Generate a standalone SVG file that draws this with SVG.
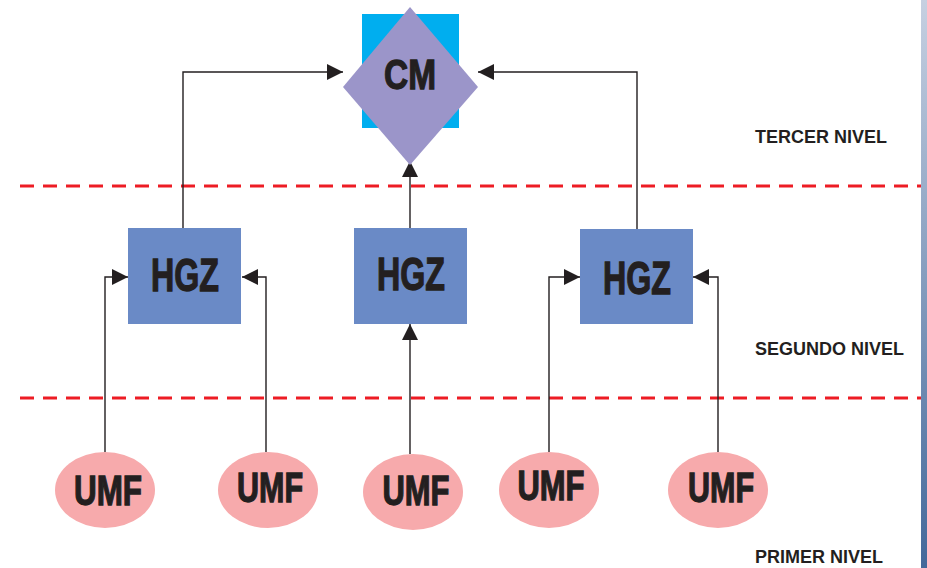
<svg xmlns="http://www.w3.org/2000/svg" width="927" height="568" viewBox="0 0 927 568">
<defs>
<linearGradient id="bar" x1="0" y1="0" x2="0" y2="1">
<stop offset="0" stop-color="#c6d0e1"/>
<stop offset="1" stop-color="#43689a"/>
</linearGradient>
<marker id="ah" markerUnits="userSpaceOnUse" markerWidth="16" markerHeight="16" refX="16" refY="8" orient="auto">
<path d="M0,0 L16,8 L0,16 z" fill="#231f20"/>
</marker>
<style>
.lbl{font-family:"Liberation Sans",Arial,sans-serif;font-weight:bold;fill:#231f20;stroke:#231f20;stroke-width:1.3;text-anchor:middle}
.lvl{font-family:"Liberation Sans",Arial,sans-serif;font-weight:bold;font-size:18px;fill:#231f20}
.hgz{fill:#6a8ac6}
.umf{fill:#f7aaac}
.conn{fill:none;stroke:#231f20;stroke-width:1.4}
.dash{stroke:#ed1c24;stroke-width:3;stroke-dasharray:14 9}
</style>
</defs>
<rect width="927" height="568" fill="#ffffff"/>
<rect x="921" y="0" width="6" height="568" fill="url(#bar)"/>
<g id="level-lines">
<line class="dash" x1="20" y1="186" x2="921" y2="186"/>
<line class="dash" x1="20" y1="398" x2="921" y2="398"/>
</g>
<g id="level-labels">
<text class="lvl" x="755" y="143">TERCER NIVEL</text>
<text class="lvl" x="755" y="355">SEGUNDO NIVEL</text>
<text class="lvl" x="755" y="563">PRIMER NIVEL</text>
</g>
<g id="connectors">
<path class="conn" d="M105,452 V277 H128" marker-end="url(#ah)"/>
<path class="conn" d="M266,452 V277 H242" marker-end="url(#ah)"/>
<path class="conn" d="M183,228 V72 H343" marker-end="url(#ah)"/>
<path class="conn" d="M637,229 V72 H478" marker-end="url(#ah)"/>
<path class="conn" d="M410,228 V161" marker-end="url(#ah)"/>
<path class="conn" d="M410,454 V324" marker-end="url(#ah)"/>
<path class="conn" d="M549,452 V277 H580" marker-end="url(#ah)"/>
<path class="conn" d="M718,452 V277 H693" marker-end="url(#ah)"/>
</g>
<g id="cm">
<rect x="362" y="14" width="97" height="114" fill="#00aeef"/>
<polygon points="410,7 478,87 410,165 343,87" fill="#9b95c9"/>
<text class="lbl" x="410" y="89" font-size="43" textLength="52" lengthAdjust="spacingAndGlyphs">CM</text>
</g>
<g id="hgz1">
<rect class="hgz" x="128" y="228" width="113" height="96"/>
<text class="lbl" x="185" y="291" font-size="46" textLength="68" lengthAdjust="spacingAndGlyphs">HGZ</text>
</g>
<g id="hgz2">
<rect class="hgz" x="354" y="228" width="113" height="96"/>
<text class="lbl" x="411" y="290" font-size="46" textLength="68" lengthAdjust="spacingAndGlyphs">HGZ</text>
</g>
<g id="hgz3">
<rect class="hgz" x="580" y="229" width="113" height="95"/>
<text class="lbl" x="637" y="294" font-size="46" textLength="68" lengthAdjust="spacingAndGlyphs">HGZ</text>
</g>
<g id="umf1">
<ellipse class="umf" cx="105" cy="490" rx="50" ry="38"/>
<text class="lbl" x="108" y="505" font-size="42" textLength="68" lengthAdjust="spacingAndGlyphs">UMF</text>
</g>
<g id="umf2">
<ellipse class="umf" cx="268" cy="490" rx="50" ry="38"/>
<text class="lbl" x="270" y="502" font-size="42" textLength="66" lengthAdjust="spacingAndGlyphs">UMF</text>
</g>
<g id="umf3">
<ellipse class="umf" cx="413" cy="492" rx="50" ry="38"/>
<text class="lbl" x="416" y="505" font-size="42" textLength="67" lengthAdjust="spacingAndGlyphs">UMF</text>
</g>
<g id="umf4">
<ellipse class="umf" cx="549" cy="490" rx="50" ry="38"/>
<text class="lbl" x="551" y="500" font-size="42" textLength="67" lengthAdjust="spacingAndGlyphs">UMF</text>
</g>
<g id="umf5">
<ellipse class="umf" cx="718" cy="490" rx="50" ry="38"/>
<text class="lbl" x="721" y="502" font-size="42" textLength="66" lengthAdjust="spacingAndGlyphs">UMF</text>
</g>
</svg>
